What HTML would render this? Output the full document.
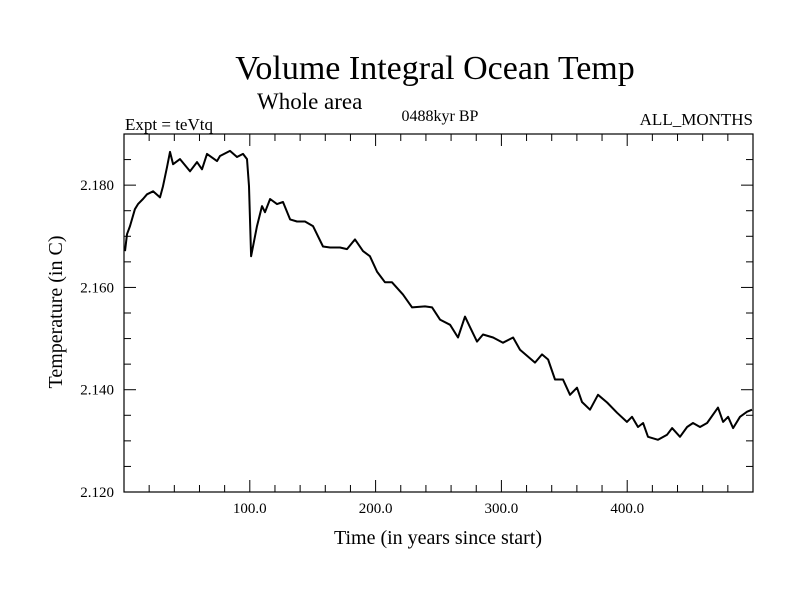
<!DOCTYPE html>
<html><head><meta charset="utf-8"><style>
body{margin:0;background:#fff}
svg{display:block;font-family:"Liberation Serif",serif}
</style></head><body>
<svg id="chart" width="800" height="600">
<text x="435" y="79" font-size="34" text-anchor="middle">Volume Integral Ocean Temp</text>
<text x="257" y="109" font-size="23">Whole area</text>
<text x="125" y="130" font-size="17">Expt = teVtq</text>
<text x="440" y="121" font-size="16" text-anchor="middle">0488kyr BP</text>
<text x="753" y="125" font-size="17" text-anchor="end">ALL_MONTHS</text>
<text x="438" y="544" font-size="20" text-anchor="middle">Time (in years since start)</text>
<text transform="translate(62,312) rotate(-90)" font-size="20" text-anchor="middle">Temperature (in C)</text>
<g id="axes"></g>
<g id="series"></g>
</svg>
<script>
const years=[0.8,2.4,4.8,8.7,11.1,15.1,18.3,23.1,28.6,31.0,34.2,36.6,39.0,44.5,52.5,58.0,62.0,66.0,73.9,76.3,84.3,89.8,94.6,97.8,99.4,101.0,105.7,109.7,112.1,116.1,121.6,126.4,132.0,137.5,143.9,150.2,158.2,163.8,171.7,177.3,183.6,190.0,195.5,201.1,207.5,213.0,221.8,229.0,239.3,244.9,251.2,259.2,265.5,271.1,275.1,280.6,285.4,293.4,301.3,309.3,314.8,326.7,332.3,337.1,342.6,349.0,354.5,360.1,364.1,370.4,376.8,384.0,391.9,399.8,403.8,408.6,412.6,416.5,424.5,431.7,435.7,442.0,447.6,452.3,457.9,463.5,472.2,476.2,480.2,484.2,489.7,495.3,499.2];
const temps=[2.1671,2.1704,2.1720,2.1753,2.1763,2.1773,2.1782,2.1788,2.1776,2.1798,2.1835,2.1865,2.1841,2.1851,2.1827,2.1845,2.1831,2.1861,2.1847,2.1857,2.1867,2.1855,2.1861,2.1851,2.1798,2.1661,2.1720,2.1759,2.1747,2.1773,2.1763,2.1767,2.1733,2.1729,2.1729,2.1720,2.1680,2.1678,2.1678,2.1675,2.1694,2.1671,2.1661,2.1631,2.1610,2.1610,2.1586,2.1561,2.1563,2.1561,2.1537,2.1527,2.1502,2.1543,2.1522,2.1494,2.1508,2.1502,2.1492,2.1502,2.1478,2.1453,2.1469,2.1459,2.1420,2.1420,2.1390,2.1404,2.1376,2.1361,2.1390,2.1375,2.1355,2.1337,2.1347,2.1327,2.1335,2.1308,2.1302,2.1312,2.1325,2.1308,2.1327,2.1335,2.1327,2.1335,2.1365,2.1337,2.1347,2.1325,2.1347,2.1357,2.1361];
const xTicks=[100,200,300,400];
const xTickLabels=["100.0","200.0","300.0","400.0"];
const yTicks=[2.12,2.14,2.16,2.18];
const yTickLabels=["2.120","2.140","2.160","2.180"];
const X0=124,X1=753,Y0=492,Y1=134,xmin=0,xmax=500,ymin=2.12,ymax=2.19;
const sx=v=>X0+(v-xmin)/(xmax-xmin)*(X1-X0);
const sy=v=>Y0-(v-ymin)/(ymax-ymin)*(Y0-Y1);
const NS="http://www.w3.org/2000/svg";
const axes=document.getElementById('axes');
function mk(tag,attrs,parent){const e=document.createElementNS(NS,tag);for(const k in attrs)e.setAttribute(k,attrs[k]);parent.appendChild(e);return e;}
const frame=mk('rect',{x:X0,y:Y1,width:X1-X0,height:Y0-Y1,fill:'none',stroke:'#000','stroke-width':1.2},axes);


for(let v=20;v<500;v+=20){
  const major=v%100===0,L=major?12:7,x=sx(v);
  const t1=mk('line',{x1:x,x2:x,y1:Y0,y2:Y0-L,stroke:'#000'},axes);
  
  
  const t2=mk('line',{x1:x,x2:x,y1:Y1,y2:Y1+L,stroke:'#000'},axes);
  
  
}
for(let i=1;i<14;i++){
  const v=ymin+i*0.005,major=i%4===0,L=major?12:7,y=sy(v);
  const t1=mk('line',{x1:X0,x2:X0+L,y1:y,y2:y,stroke:'#000'},axes);
  
  
  const t2=mk('line',{x1:X1,x2:X1-L,y1:y,y2:y,stroke:'#000'},axes);
  
  
}
xTicks.forEach((v,i)=>{
  const t=mk('text',{x:sx(v),y:513,'font-size':15,'text-anchor':'middle'},axes);
  t.textContent=xTickLabels[i];
  
  
});
yTicks.forEach((v,i)=>{
  const t=mk('text',{x:114,y:sy(v)+5,'font-size':15,'text-anchor':'end'},axes);
  t.textContent=yTickLabels[i];
  
  
});
const pts=years.map((y,i)=>sx(y).toFixed(1)+','+sy(temps[i]).toFixed(1)).join(' ');
const line=mk('polyline',{points:pts,fill:'none',stroke:'#000','stroke-width':2,'stroke-linejoin':'round'},document.getElementById('series'));


</script>
</body></html>
